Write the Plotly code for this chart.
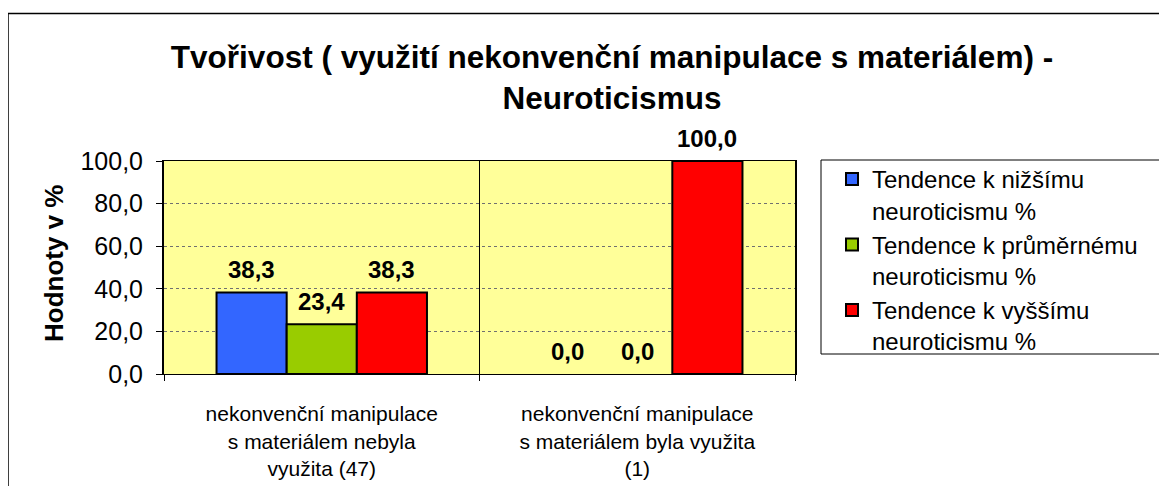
import plotly.graph_objects as go

# chart data
categories = [
    "nekonvenční manipulace<br>s materiálem nebyla<br>využita (47)",
    "nekonvenční manipulace<br>s materiálem byla využita<br>(1)",
]
series_names = [
    "Tendence k nižšímu<br>neuroticismu %",
    "Tendence k průměrnému<br>neuroticismu %",
    "Tendence k vyššímu<br>neuroticismu %",
]
low_vals = [38.3, 0.0]
mid_vals = [23.4, 0.0]
high_vals = [38.3, 100.0]
y_ticks = [0, 20, 40, 60, 80, 100]

colors = ["#3366FF", "#99CC00", "#FF0000"]
FONT = "Arial, Liberation Sans, sans-serif"
BARGAP = 0.333

# the page body has an 8px margin, so the figure sits at (8, 8)
OFF = 8
W, H = 1167 - OFF, 486 - OFF
# plot area in page pixels: x 164..795, y 161..374
L, T = 164 - OFF, 161 - OFF
R, B = W - (795 - OFF), H - (374 - OFF)
pw = W - L - R
ph = H - T - B


def px_x(p):
    return (p - OFF - L) / pw


def px_y(p):
    return (H - B - (p - OFF)) / ph


all_vals = [low_vals, mid_vals, high_vals]
fig = go.Figure()
for name, vals, col in zip(series_names, all_vals, colors):
    fig.add_trace(go.Bar(
        x=categories, y=vals, name=name,
        marker=dict(color=col,
                    line=dict(color="black", width=[2 if v > 0 else 0 for v in vals])),
    ))

# value labels above each bar (grouped bar offsets from the bar gap)
bar_w = (1 - BARGAP) / len(all_vals)
labels = []
for k, vals in enumerate(all_vals):
    for i, v in enumerate(vals):
        labels.append(dict(
            text="<b>" + f"{v:.1f}".replace(".", ",") + "</b>",
            xref="x", yref="y", x=i + (k - (len(all_vals) - 1) / 2) * bar_w, y=v,
            xanchor="center", yanchor="bottom", yshift=7, showarrow=False,
            font=dict(family=FONT, size=24, color="black"),
        ))

fig.update_layout(
    width=W, height=H,
    margin=dict(l=L, r=R, t=T, b=B, autoexpand=False),
    paper_bgcolor="white", plot_bgcolor="#FFFF99",
    separators=", ",
    barmode="group", bargap=BARGAP, bargroupgap=0,
    font=dict(family=FONT, color="black"),
    title=dict(
        text="<b>Tvořivost ( využití nekonvenční manipulace s materiálem) -<br>Neuroticismus</b>",
        x=(612 - OFF) / W, xanchor="center", y=1 - 60 / H, yanchor="top",
        font=dict(family=FONT, size=31.5, color="black"),
    ),
    showlegend=True,
    legend=dict(
        x=px_x(832), y=px_y(157), xanchor="left", yanchor="top",
        font=dict(family=FONT, size=24, color="black"),
        bgcolor="rgba(0,0,0,0)", borderwidth=0, valign="top",
        itemclick=False, traceorder="normal",
    ),
    xaxis=dict(
        type="category", tickson="boundaries", ticks="outside", ticklen=6,
        tickcolor="black", showgrid=True, gridcolor="black", gridwidth=1,
        showline=True, linecolor="black", linewidth=1, mirror=True,
        tickfont=dict(family=FONT, size=21, color="black"),
        ticklabelstandoff=21,
    ),
    yaxis=dict(
        range=[0, 100], tickvals=y_ticks, tickformat=".1f",
        ticks="outside", ticklen=6, tickcolor="black",
        showgrid=True, gridcolor="#707070", griddash="dot", gridwidth=1,
        showline=True, linecolor="black", linewidth=2, mirror=True,
        tickfont=dict(family=FONT, size=25, color="black"),
        ticklabelstandoff=8, zeroline=False,
    ),
    annotations=labels + [dict(
        text="<b>Hodnoty v %</b>", textangle=-90, showarrow=False,
        xref="paper", yref="paper", x=px_x(54), y=px_y(263),
        xanchor="center", yanchor="middle",
        font=dict(family=FONT, size=26, color="black"),
    )],
    shapes=[
        # outer chart frame
        dict(type="rect", xref="paper", yref="paper",
             x0=px_x(8), y0=px_y(600), x1=px_x(1300), y1=px_y(13.5),
             line=dict(color="black", width=1.5), layer="below"),
        # legend box
        dict(type="rect", xref="paper", yref="paper",
             x0=px_x(821), y0=px_y(354), x1=px_x(1166), y1=px_y(160),
             line=dict(color="black", width=1)),
    ],
)

fig.write_html("out.html")
